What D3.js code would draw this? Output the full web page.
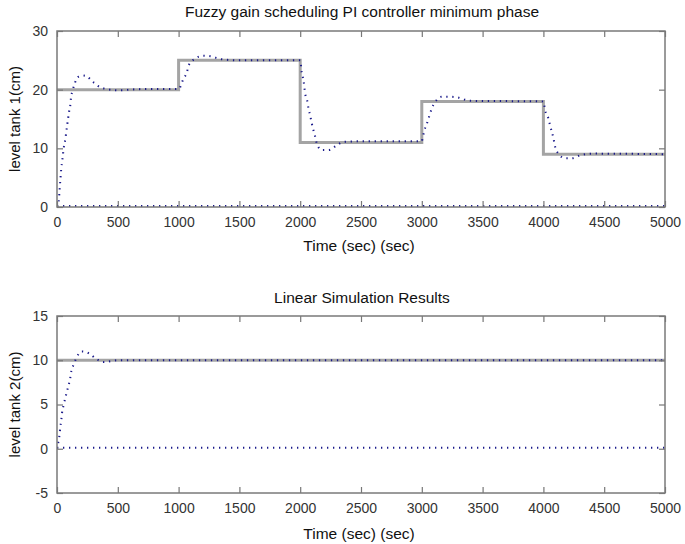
<!DOCTYPE html>
<html>
<head>
<meta charset="utf-8">
<script src="https://cdn.jsdelivr.net/npm/d3@7"></script>
<style>
  body { margin: 0; background: #fff; }
  svg text { font-family: "Liberation Sans", Arial, sans-serif; }
</style>
</head>
<body>
<svg id="chart" width="685" height="544"></svg>
<script>
// Shared x axis
const timeTicks = [0, 500, 1000, 1500, 2000, 2500, 3000, 3500, 4000, 4500, 5000];

// Panel 1 - tank 1
const tank1Ticks = [0, 10, 20, 30];
const ref1Time = [0, 1000, 1000, 2000, 2000, 3000, 3000, 4000, 4000, 5000];
const ref1Level = [20, 20, 25, 25, 11, 11, 18, 18, 9, 9];
const out1Time = [0, 13, 20, 27, 35, 45, 55, 68, 82, 90, 99, 109, 115, 128, 145, 178, 233, 296, 356, 411, 500, 700, 1000,
                  1041, 1069, 1082, 1137, 1203, 1260, 1350, 1500, 2000,
                  2012, 2027, 2041, 2060, 2068, 2082, 2096, 2109, 2123, 2137, 2178, 2233, 2301, 2355, 2500, 3000,
                  3006, 3022, 3042, 3060, 3082, 3110, 3165, 3233, 3288, 3400, 4000,
                  4014, 4041, 4055, 4083, 4096, 4123, 4178, 4233, 4301, 4400, 5000];
const out1Level = [0, 0.9, 2.5, 4.5, 6.5, 8.2, 10, 11.5, 13.7, 14.9, 16.2, 17.3, 18.6, 19.8, 21, 22.2, 22.4, 21.3, 20.4, 20.1, 19.9, 20.1, 20.1,
                   21.9, 23, 24.1, 25.3, 25.8, 25.7, 25.2, 25, 25,
                   23, 21.6, 19.3, 17.9, 16.8, 15.6, 14.2, 13.1, 12, 10.8, 9.7, 9.7, 10.5, 11.1, 11.2, 11.2,
                   11.7, 13.1, 14.2, 15.4, 16.8, 17.9, 18.8, 18.8, 18.7, 18.1, 18,
                   16.5, 15.1, 13.9, 11.7, 10.3, 9.1, 8.3, 8.3, 8.8, 9.1, 9];

// Panel 2 - tank 2
const tank2Ticks = [-5, 0, 5, 10, 15];
const ref2Time = [0, 5000];
const ref2Level = [10, 10];
const out2Time = [0, 13, 21, 27, 35, 41, 54, 68, 82, 96, 109, 118, 137, 164, 205, 260, 329, 383, 500, 5000];
const out2Level = [0, 0.9, 1.6, 2.4, 3.2, 4.0, 4.9, 5.7, 6.5, 7.2, 8.0, 8.8, 9.5, 10.4, 11.0, 10.8, 10.1, 9.8, 10, 10];

// Zero input line in both panels
const zeroTime = [0, 5000];
const zeroLevel = [0, 0];

const svg = d3.select('#chart');
const left = 57, right = 665;

const panels = [
  { top: 31, bottom: 207, domain: [0, 30], ticks: tank1Ticks,
    title: 'Fuzzy gain scheduling PI controller minimum phase', titleY: 17,
    ylabel: 'level tank 1(cm)', xlabelY: 251,
    ref: [ref1Time, ref1Level], out: [out1Time, out1Level] },
  { top: 316, bottom: 493, domain: [-5, 15], ticks: tank2Ticks,
    title: 'Linear Simulation Results', titleY: 303,
    ylabel: 'level tank 2(cm)', xlabelY: 539,
    ref: [ref2Time, ref2Level], out: [out2Time, out2Level] }
];

const toPts = (ts, vs) => ts.map((t, i) => [t, vs[i]]);
const plain = d => String(d);   // hyphen minus like the original

panels.forEach(p => {
  const x = d3.scaleLinear().domain([0, 5000]).range([left, right]);
  const y = d3.scaleLinear().domain(p.domain).range([p.bottom, p.top]);
  const g = svg.append('g');

  const clipId = 'clip' + p.top;
  g.append('clipPath').attr('id', clipId)
    .append('rect').attr('x', left).attr('y', p.top - 2)
    .attr('width', right - left).attr('height', p.bottom - p.top + 4);

  const line = d3.line().x(d => x(d[0])).y(d => y(d[1]));
  const smooth = d3.line().x(d => x(d[0])).y(d => y(d[1])).curve(d3.curveMonotoneX);

  const plot = g.append('g').attr('clip-path', `url(#${clipId})`);

  // reference step (gray)
  plot.append('path')
    .datum(toPts(p.ref[0], p.ref[1]))
    .attr('d', line)
    .attr('fill', 'none')
    .attr('stroke', '#a4a4a4')
    .attr('stroke-width', 3);

  // zero line (dotted)
  plot.append('path')
    .datum(toPts(zeroTime, zeroLevel))
    .attr('d', line)
    .attr('fill', 'none')
    .attr('stroke', '#1a1a8a')
    .attr('stroke-width', 2)
    .attr('stroke-dasharray', '1.3,4.7')
    .attr('transform', 'translate(0,-1)');

  // output (dotted)
  plot.append('path')
    .datum(toPts(p.out[0], p.out[1]))
    .attr('d', smooth)
    .attr('fill', 'none')
    .attr('stroke', '#1a1a8a')
    .attr('stroke-width', 2)
    .attr('stroke-dasharray', '1.3,4.7');

  // axes: inward ticks on all four sides
  const axisStyle = sel => {
    sel.select('.domain').remove();
    sel.selectAll('line').attr('stroke', '#777').attr('stroke-width', 1.2);
    sel.selectAll('text').attr('fill', '#333').style('font-size', '14px');
  };
  g.append('g').attr('transform', `translate(0,${p.bottom})`)
    .call(d3.axisBottom(x).tickValues(timeTicks).tickSize(-6).tickPadding(10).tickFormat(plain))
    .call(axisStyle);
  g.append('g').attr('transform', `translate(0,${p.top})`)
    .call(d3.axisTop(x).tickValues(timeTicks).tickSize(-6).tickFormat(''))
    .call(axisStyle);
  g.append('g').attr('transform', `translate(${left},0)`)
    .call(d3.axisLeft(y).tickValues(p.ticks).tickSize(-6).tickPadding(9).tickFormat(plain))
    .call(axisStyle);
  g.append('g').attr('transform', `translate(${right},0)`)
    .call(d3.axisRight(y).tickValues(p.ticks).tickSize(-6).tickFormat(''))
    .call(axisStyle);

  // box
  g.append('rect')
    .attr('x', left).attr('y', p.top)
    .attr('width', right - left).attr('height', p.bottom - p.top)
    .attr('fill', 'none').attr('stroke', '#7a7a7a').attr('stroke-width', 1.5);

  // title
  g.append('text')
    .attr('x', (left + right) / 2 + 1).attr('y', p.titleY)
    .attr('text-anchor', 'middle')
    .style('font-size', '15.5px').attr('fill', '#111')
    .text(p.title);

  // x label
  g.append('text')
    .attr('x', (left + right) / 2 - 2).attr('y', p.xlabelY)
    .attr('text-anchor', 'middle')
    .style('font-size', '15.5px').attr('fill', '#111')
    .text('Time (sec) (sec)');

  // y label
  g.append('text')
    .attr('transform', `translate(20,${(p.top + p.bottom) / 2}) rotate(-90)`)
    .attr('text-anchor', 'middle')
    .style('font-size', '15px').attr('fill', '#111')
    .text(p.ylabel);
});
</script>
</body>
</html>
